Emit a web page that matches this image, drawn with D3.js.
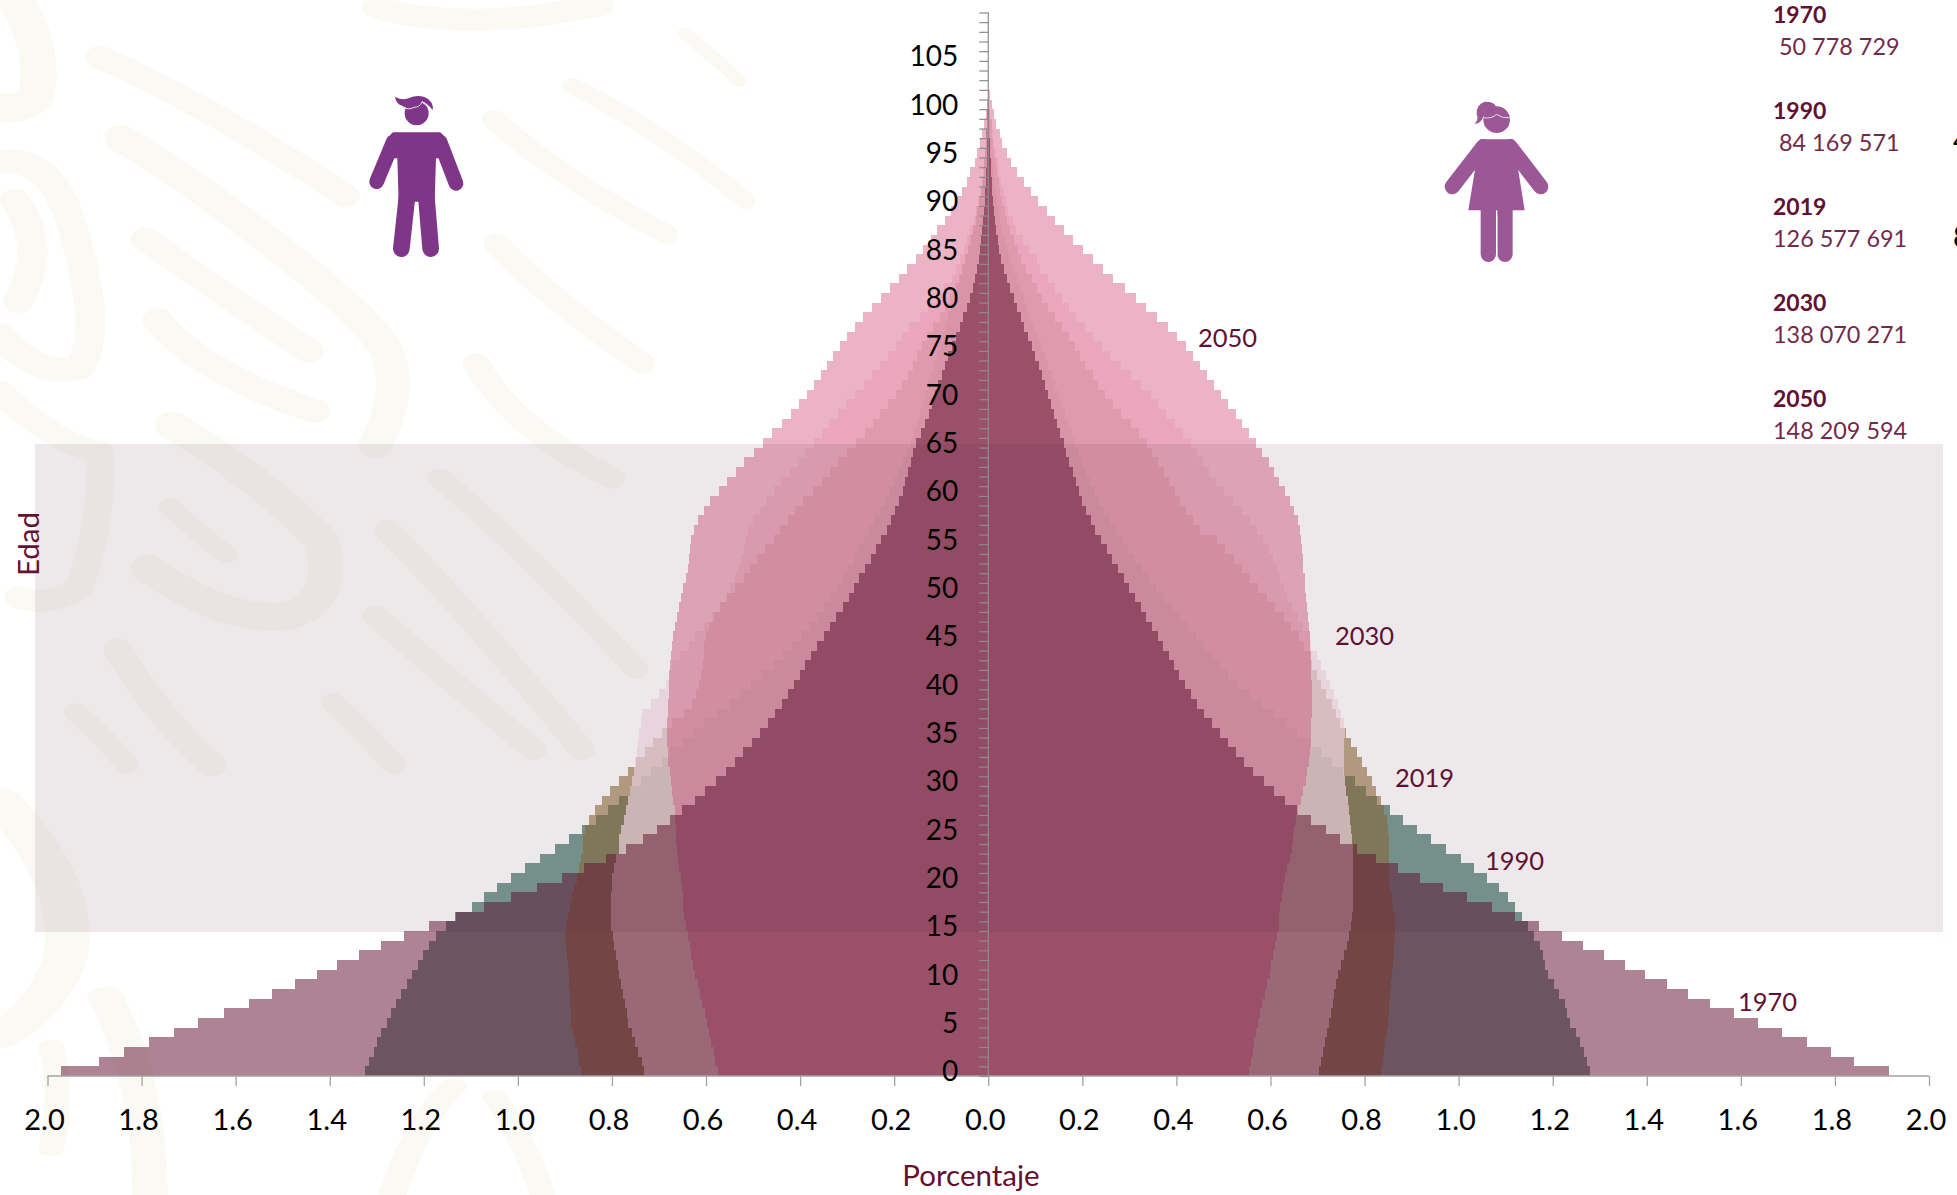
<!DOCTYPE html>
<html lang="es"><head><meta charset="utf-8">
<script src="https://cdn.jsdelivr.net/npm/d3@7/dist/d3.min.js"></script>
<style>html,body{margin:0;padding:0;background:#fff;overflow:hidden}svg{display:block}text{font-family:Lato,"Open Sans",sans-serif}</style>
</head><body><div id="c"></div>
<script>
const years=["1970","1990","2019","2030","2050"];
const totals=["50 778 729","84 169 571","126 577 691","138 070 271","148 209 594"];
const xTicks=[-2,-1.8,-1.6,-1.4,-1.2,-1,-0.8,-0.6,-0.4,-0.2,0,0.2,0.4,0.6,0.8,1,1.2,1.4,1.6,1.8,2];
const ageTicks=[0,5,10,15,20,25,30,35,40,45,50,55,60,65,70,75,80,85,90,95,100,105];
// % of population by single year of age (index = age), men
const men1970=[1.972,1.891,1.838,1.784,1.731,1.679,1.624,1.572,1.522,1.474,1.428,1.384,1.337,1.291,1.243,1.190,1.132,1.072,1.015,.960,.907,.860,.812,.770,.735,.704,.677,.651,.624,.602,.579,.558,.539,.521,.503,.485,.469,.453,.439,.426,.413,.401,.389,.377,.364,.350,.337,.323,.308,.297,.285,.274,.262,.249,.238,.227,.215,.207,.198,.189,.181,.176,.171,.164,.159,.153,.144,.135,.127,.120,.113,.106,.099,.092,.085,.077,.068,.060,.053,.046,.039,.032,.028,.024,.020,.017,.015,.013,.011,.009,.007,.006,.005,.004,.003,.002,.002,.001,.001,0,0,0];
const women1970=[1.914,1.841,1.791,1.741,1.688,1.636,1.586,1.534,1.487,1.442,1.397,1.353,1.310,1.265,1.220,1.171,1.120,1.070,1.017,.967,.918,.872,.825,.785,.747,.718,.686,.657,.631,.607,.586,.563,.544,.526,.509,.492,.475,.459,.444,.430,.419,.406,.394,.384,.372,.360,.348,.336,.324,.312,.300,.288,.276,.264,.252,.240,.228,.218,.208,.200,.193,.187,.180,.172,.165,.160,.153,.146,.140,.134,.128,.121,.115,.108,.100,.093,.085,.077,.069,.061,.054,.046,.039,.033,.027,.023,.020,.017,.014,.012,.010,.008,.007,.006,.005,.004,.003,.002,.002,.001,0,0];
const men1990=[1.324,1.316,1.306,1.300,1.290,1.279,1.270,1.259,1.248,1.236,1.225,1.212,1.202,1.188,1.174,1.153,1.133,1.098,1.071,1.044,1.014,.984,.953,.922,.892,.863,.834,.809,.784,.761,.738,.716,.694,.676,.649,.626,.604,.577,.552,.527,.505,.481,.456,.437,.417,.398,.382,.364,.350,.336,.322,.309,.299,.286,.276,.265,.254,.242,.231,.220,.210,.201,.191,.181,.173,.165,.158,.152,.146,.140,.134,.128,.121,.115,.109,.103,.097,.091,.085,.079,.073,.067,.060,.054,.048,.042,.037,.032,.027,.023,.019,.016,.013,.010,.008,.006,.005,.004,.003,.002,.001,0];
const women1990=[1.279,1.272,1.266,1.259,1.250,1.237,1.231,1.226,1.213,1.202,1.189,1.184,1.180,1.173,1.160,1.147,1.135,1.120,1.104,1.085,1.060,1.032,1.004,.973,.942,.911,.882,.855,.826,.803,.779,.755,.731,.708,.684,.657,.632,.607,.580,.556,.528,.509,.493,.475,.458,.441,.424,.407,.390,.373,.357,.341,.326,.311,.298,.285,.272,.258,.246,.236,.226,.217,.208,.200,.192,.185,.178,.170,.163,.156,.149,.142,.135,.128,.121,.113,.105,.097,.089,.082,.075,.068,.061,.054,.047,.041,.035,.030,.026,.022,.018,.015,.012,.010,.008,.006,.005,.004,.003,.002,.001,0];
const men2019=[.865,.869,.873,.878,.883,.887,.888,.889,.890,.891,.892,.893,.895,.897,.899,.897,.893,.889,.885,.880,.875,.870,.865,.862,.861,.857,.848,.837,.821,.804,.785,.766,.748,.729,.712,.694,.672,.646,.630,.621,.615,.610,.607,.605,.604,.601,.593,.584,.571,.556,.538,.520,.506,.492,.474,.456,.442,.425,.410,.393,.372,.354,.336,.319,.301,.281,.263,.246,.230,.213,.197,.184,.170,.160,.152,.141,.130,.117,.103,.092,.081,.070,.063,.056,.049,.043,.038,.033,.027,.023,.018,.015,.012,.010,.008,.005,.004,.003,.002,.001,0,0];
const women2019=[.836,.839,.842,.844,.847,.849,.851,.853,.855,.857,.858,.860,.862,.863,.864,.865,.864,.861,.858,.855,.852,.851,.851,.851,.851,.850,.848,.842,.834,.825,.815,.805,.795,.784,.772,.760,.748,.739,.731,.719,.708,.699,.688,.683,.672,.660,.644,.628,.610,.592,.573,.557,.539,.522,.504,.486,.450,.435,.420,.408,.396,.385,.373,.361,.349,.338,.320,.303,.282,.266,.249,.233,.222,.206,.195,.184,.171,.157,.141,.128,.114,.103,.092,.081,.070,.063,.054,.047,.040,.035,.029,.025,.022,.018,.016,.013,.011,.009,.007,.004,0,0];
const men2030=[.731,.737,.744,.751,.758,.765,.769,.773,.777,.781,.785,.788,.792,.795,.798,.801,.802,.802,.801,.800,.799,.796,.792,.786,.784,.780,.775,.770,.765,.761,.758,.753,.750,.747,.745,.742,.739,.736,.717,.701,.685,.677,.673,.655,.637,.623,.605,.587,.571,.558,.549,.539,.531,.525,.519,.515,.510,.500,.486,.472,.456,.440,.422,.405,.389,.371,.354,.338,.320,.303,.284,.265,.248,.231,.213,.197,.184,.168,.146,.128,.111,.095,.078,.068,.060,.052,.046,.038,.031,.025,.021,.016,.013,.011,.009,.007,.004,.003,.002,.001,0,0];
const women2030=[.704,.708,.712,.716,.720,.724,.728,.732,.736,.740,.744,.750,.756,.762,.767,.771,.773,.775,.776,.776,.776,.776,.776,.775,.773,.771,.769,.767,.765,.761,.759,.757,.756,.756,.757,.759,.756,.750,.743,.736,.727,.719,.708,.699,.687,.683,.670,.658,.646,.635,.628,.621,.614,.605,.596,.584,.571,.557,.539,.520,.502,.485,.470,.457,.444,.430,.413,.398,.377,.360,.345,.325,.303,.282,.258,.241,.222,.206,.187,.171,.157,.141,.127,.110,.103,.087,.073,.060,.052,.043,.038,.033,.028,.022,.020,.016,.013,.010,.007,.003,0,0];
const men2050=[.575,.580,.584,.589,.593,.598,.603,.608,.613,.618,.623,.627,.631,.635,.639,.643,.646,.648,.650,.652,.654,.657,.660,.662,.663,.664,.665,.667,.670,.672,.674,.677,.680,.681,.682,.682,.682,.681,.680,.679,.678,.678,.676,.675,.673,.670,.665,.661,.657,.653,.648,.642,.639,.637,.635,.632,.625,.618,.605,.591,.573,.556,.537,.519,.499,.479,.459,.439,.420,.403,.386,.371,.356,.342,.329,.316,.301,.284,.267,.247,.228,.209,.190,.172,.154,.139,.122,.108,.093,.079,.068,.056,.046,.038,.029,.024,.018,.013,.009,.005,.003,.001];
const women2050=[.554,.558,.562,.566,.570,.574,.578,.583,.588,.593,.598,.601,.605,.609,.614,.618,.619,.621,.624,.627,.631,.636,.641,.645,.648,.651,.654,.659,.665,.670,.675,.678,.681,.685,.686,.687,.687,.688,.688,.688,.688,.687,.687,.686,.685,.683,.681,.679,.678,.676,.674,.673,.670,.669,.667,.665,.663,.658,.651,.641,.630,.619,.608,.596,.582,.569,.555,.540,.526,.510,.495,.480,.464,.450,.435,.420,.401,.382,.359,.336,.314,.291,.266,.244,.222,.202,.181,.161,.141,.124,.106,.090,.076,.062,.049,.039,.030,.024,.017,.012,.008,.003];
const ages=d3.range(men2050.length);
// drawing order bottom to top
const layers=[
 {name:"1990",men:men1990,women:women1990,fill:"rgb(35,91,78)",op:.6},
 {name:"2019",men:men2019,women:women2019,fill:"rgb(142,108,57)",op:.6},
 {name:"2030",men:men2030,women:women2030,fill:"rgb(248,224,234)",op:.72},
 {name:"2050",men:men2050,women:women2050,fill:"rgb(219,103,141)",op:.5},
 {name:"1970",men:men1970,women:women1970,fill:"rgb(98,17,50)",op:.515}
];
const wine="#621132";
const W=1957,H=1195;
const svg=d3.select("#c").append("svg").attr("width",W).attr("height",H).attr("viewBox",`0 0 ${W} ${H}`);
// watermark (decorative background)
const wm=svg.append("g").attr("fill","none").attr("stroke","#fbf9f4").attr("stroke-linecap","round").attr("stroke-linejoin","round");
const wmA=wm.append("g").attr("transform","scale(.606,.478)");
[
 ["M165,120 Q290,190 420,290 T570,410",48],
 ["M200,290 Q320,380 470,530 T640,740 Q665,820 620,930",56],
 ["M240,500 Q350,600 510,735",48],["M260,670 Q330,780 520,860",50],
 ["M815,250 Q920,370 1100,490",40],["M945,180 Q1100,280 1230,420",34],["M1130,70 Q1180,120 1220,170",24],
 ["M820,510 Q900,620 1060,760",44],["M785,760 Q850,900 1010,1000",44],
 ["M285,890 Q430,1000 530,1130 Q560,1260 470,1290 Q370,1300 245,1190",58],
 ["M280,1060 Q340,1130 375,1160",36],["M725,1000 Q850,1130 1050,1400",40],["M640,1110 Q780,1290 960,1568",44],
 ["M620,1290 Q740,1420 880,1568",44],["M195,1360 Q260,1500 350,1600",48],["M550,1470 Q600,1530 650,1600",40],["M125,1490 Q170,1540 210,1600",38],
 ["M25,0 Q75,100 60,200 Q40,230 0,225",60],["M0,340 Q90,320 125,500 Q170,700 130,770 Q60,790 0,700",50],
 ["M25,420 Q80,520 30,630",50],["M0,820 Q90,930 165,945 Q170,1100 130,1230 Q80,1270 30,1250",46],
 ["M620,15 Q770,70 990,10",46],["M1240,930 Q1350,1050 1430,1250",0]
].forEach(([d,w])=>{ if(w>0) wmA.append("path").attr("d",d).attr("stroke-width",w); });
const wmB=wm.append("g").attr("transform","translate(0,750) scale(.638,.333)");
[
 ["M0,150 Q130,420 100,640 Q70,780 0,860",70],["M165,740 Q235,1000 235,1335",56],["M80,890 Q100,1050 80,1200",40],
 ["M615,1335 Q650,1130 710,1010",44],["M775,1040 Q830,1200 850,1335",40],["M415,900 Q450,1100 400,1300",0]
].forEach(([d,w])=>{ if(w>0) wmB.append("path").attr("d",d).attr("stroke-width",w); });

const x=d3.scaleLinear().domain([-2,2]).range([47.5,1929]);
const yBase=1076, yTop=12.5;
const rowScale=d3.scaleBand().domain(d3.range(110)).range([yBase,yTop]).padding(0);
const yTick=d3.scaleLinear().domain([0,110]).range([yBase,yTop]);

const bars=svg.append("g");
layers.forEach(l=>{
  const g=bars.append("g").attr("class","s"+l.name).attr("fill",l.fill).attr("opacity",l.op).attr("shape-rendering","crispEdges");
  const top=a=>Math.round(rowScale(a)), bot=a=>Math.round(rowScale(a)+rowScale.bandwidth());
  g.selectAll("rect.m").data(ages.filter(a=>l.men[a]>0)).join("rect").attr("class","m")
    .attr("x",a=>x(-l.men[a])).attr("y",top).attr("width",a=>x(0)-x(-l.men[a])).attr("height",a=>bot(a)-top(a));
  g.selectAll("rect.w").data(ages.filter(a=>l.women[a]>0)).join("rect").attr("class","w")
    .attr("x",x(0)).attr("y",top).attr("width",a=>x(l.women[a])-x(0)).attr("height",a=>bot(a)-top(a));
});
// 15-64 band
svg.append("rect").attr("x",35).attr("y",444).attr("width",1908).attr("height",488).attr("fill","rgb(80,40,55)").attr("opacity",.1);

// x axis
const ax=svg.append("g").attr("transform",`translate(0,${yBase})`)
  .call(d3.axisBottom(x).tickValues(xTicks).tickSize(10).tickPadding(23).tickFormat(d=>Math.abs(d).toFixed(1)));
ax.selectAll("path,line").attr("stroke","#a3a3a3").attr("stroke-width",1.3);
ax.select("path").attr("d",`M${x(-2)},0H${x(2)}`);
ax.selectAll("text").attr("font-size",29).attr("fill","#000").attr("font-family","Lato").attr("dx",-3.5);
// y axis ticks
const ay=svg.append("g").attr("transform",`translate(${x(0)},0)`)
  .call(d3.axisLeft(yTick).tickValues(d3.range(0,111)).tickSize(9).tickFormat(""));
ay.selectAll("path,line").attr("stroke","#8c8c8c").attr("stroke-width",1.2);
ay.select("path").attr("d",`M0,${yTop}V${yBase}`);
// y labels
const al=svg.append("g").attr("transform",`translate(${x(0)},1.2)`)
  .call(d3.axisLeft(rowScale).tickValues(ageTicks).tickSize(0).tickPadding(30));
al.select("path").remove();
al.selectAll("text").attr("font-size",28).attr("fill","#000").attr("font-family","Lato");

// axis titles
svg.append("text").attr("x",971).attr("y",1186).attr("text-anchor","middle").attr("font-size",29.5).attr("fill",wine).text("Porcentaje");
svg.append("text").attr("transform","translate(39,544) rotate(-90)").attr("text-anchor","middle").attr("font-size",29.5).attr("fill",wine).text("Edad");

// series labels
const serieLabel=[["2050",1198,338],["2030",1335,636],["2019",1395,778],["1990",1485,861],["1970",1738,1002]];
svg.selectAll("text.sl").data(serieLabel).join("text").attr("class","sl").attr("x",d=>d[1]).attr("y",d=>d[2]).attr("dy",".36em")
  .attr("font-size",25.5).attr("fill",wine).text(d=>d[0]);

// legend
years.forEach((y,i)=>{
  const b=23+96*i;
  svg.append("text").attr("x",1773).attr("y",b).attr("font-size",23).attr("font-weight",700).attr("fill",wine).text(y);
  svg.append("text").attr("x",i<2?1779:1773).attr("y",b+32).attr("font-size",23.4).attr("fill","#722a4c").text(totals[i]);
});
svg.append("text").attr("x",1953).attr("y",151).attr("font-size",28).attr("fill","#000").text("4");
svg.append("text").attr("x",1953).attr("y",247).attr("font-size",28).attr("fill","#000").text("8");

// pictograms
function limb(g,x1,y1,x2,y2,w,c){g.append("line").attr("x1",x1).attr("y1",y1).attr("x2",x2).attr("y2",y2).attr("stroke",c).attr("stroke-width",w).attr("stroke-linecap","round");}
const mc="#7f3588", man=svg.append("g").attr("transform","translate(340,80) scale(.3333)");
man.append("circle").attr("cx",230).attr("cy",100).attr("r",36).attr("fill",mc);
man.append("path").attr("d","M165,50 Q185,62 205,55 Q240,40 265,58 Q282,72 278,90 Q262,70 246,64 Q240,82 222,78 Q200,88 188,78 Q168,72 165,50Z").attr("fill",mc);
man.append("path").attr("d","M185,80 Q205,92 222,82 Q240,82 246,66 Q262,76 276,90").attr("fill","none").attr("stroke","#e8dcea").attr("stroke-width",3);
man.append("path").attr("d","M160,157H298Q305,157 310,168L330,235H288L284,365H176L172,235H130L150,168Q155,157 160,157Z").attr("fill",mc);
limb(man,160,185,110,305,44,mc);limb(man,300,185,348,310,44,mc);
limb(man,201,350,184,506,50,mc);limb(man,259,350,272,506,50,mc);
const wc="#9b5796", wom=svg.append("g").attr("transform","translate(1420,85) scale(.3333)");
wom.append("circle").attr("cx",230).attr("cy",104).attr("r",40).attr("fill",wc);
wom.append("path").attr("d","M195,50 Q225,50 228,66 Q200,72 190,95 Q180,118 163,116 Q178,105 170,88 Q168,58 195,50Z").attr("fill",wc);
wom.append("path").attr("d","M190,98 Q215,102 230,88 Q248,102 272,98").attr("fill","none").attr("stroke","#eadcea").attr("stroke-width",3);
wom.append("path").attr("d","M180,163H280L314,376H145Z").attr("fill",wc);
limb(wom,190,185,97,305,46,wc);limb(wom,270,185,362,305,46,wc);
limb(wom,205,376,205,508,46,wc);limb(wom,255,376,255,508,46,wc);
wom.append("path").attr("d","M230,392V530").attr("stroke","#fff").attr("stroke-width",4);
</script></body></html>
